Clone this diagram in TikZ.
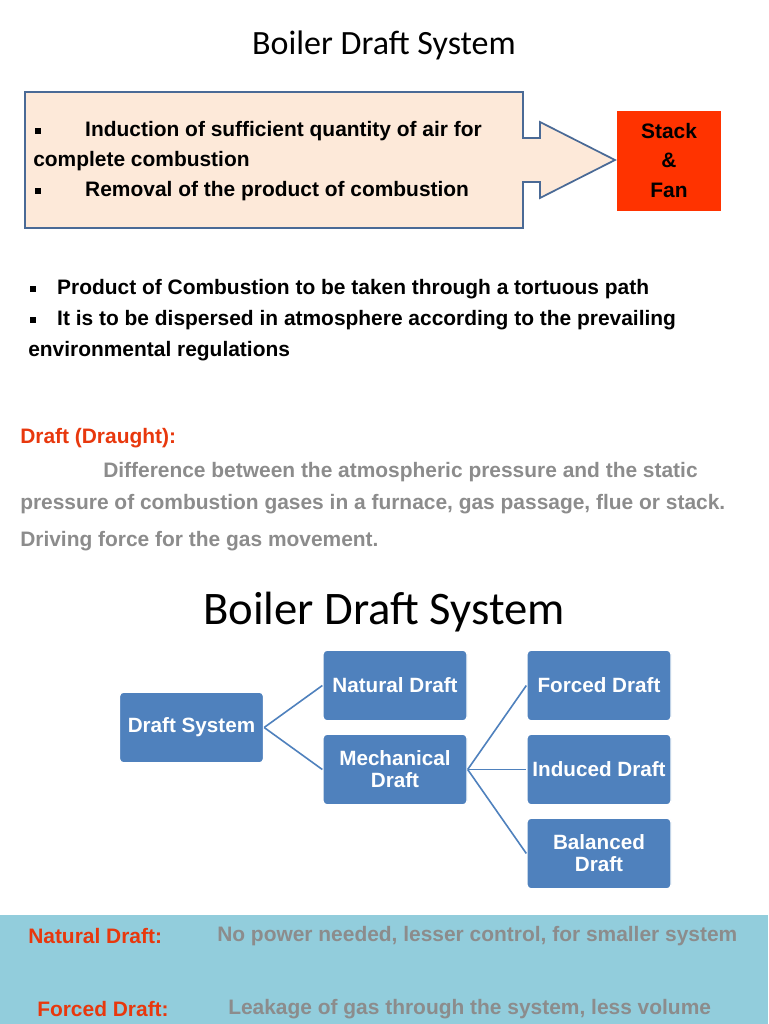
\documentclass[tikz,border=0pt]{standalone}
\usepackage{fontspec}
\setmainfont{Liberation Sans}
\newfontfamily\titlefont{Carlito}
\definecolor{boxblue}{HTML}{4F81BD}
\definecolor{edgeblue}{HTML}{4A6A96}
\definecolor{peach}{HTML}{FDE9D9}
\definecolor{redorange}{HTML}{FF3300}
\definecolor{band}{HTML}{92CDDC}
\definecolor{greytext}{HTML}{8C8C8C}
\definecolor{lbl}{HTML}{E8380D}
\newcommand{\sqb}{\raisebox{0.25ex}{\rule{4.5pt}{4.5pt}}}
\begin{document}
\begin{tikzpicture}[x=0.75pt,y=-0.75pt,
  dbox/.style={fill=boxblue,draw=white,line width=1pt,rounded corners=3pt,text=white,font=\bfseries\fontsize{15.5}{16.5}\selectfont,align=center,inner sep=0pt},
  txt/.style={anchor=west,inner sep=0pt,font=\bfseries\fontsize{15.7}{16}\selectfont},
  conn/.style={draw=boxblue,line width=1.2pt}]
\useasboundingbox (0,0) rectangle (768,1024);
\fill[white] (0,0) rectangle (768,1024);
\node[font=\titlefont\fontsize{25.5}{28}\selectfont] (t1) at (384,45) {Boiler Draft System};
\draw[draw=edgeblue,fill=peach,line width=1.3pt] (25,92) -- (523,92) -- (523,138) -- (540,138) -- (540,122) -- (615,160) -- (540,198) -- (540,182) -- (523,182) -- (523,228) -- (25,228) -- cycle;
\node[txt] (b1) at (35,131) {\sqb\hspace{2.1em}Induction of sufficient quantity of air for};
\node[txt] (b2) at (33,161) {complete combustion};
\node[txt] (b3) at (35,191) {\sqb\hspace{2.1em}Removal of the product of combustion};
\node[fill=redorange,minimum width=78pt,minimum height=75pt,inner sep=0pt,align=center,font=\bfseries\fontsize{15.7}{22}\selectfont] (sf) at (669,160.5) {Stack\\\&\\Fan};
\node[txt] (p1) at (30,289) {\sqb\hspace{1em}Product of Combustion to be taken through a tortuous path};
\node[txt] (p2) at (30,320) {\sqb\hspace{1em}It is to be dispersed in atmosphere according to the prevailing};
\node[txt] (p3) at (28,351) {environmental regulations};
\node[txt,text=lbl] (d0) at (20,438) {Draft (Draught):};
\node[txt,text=greytext] (d1) at (103,472) {Difference between the atmospheric pressure and the static};
\node[txt,text=greytext] (d2) at (20,504) {pressure of combustion gases in a furnace, gas passage, flue or stack.};
\node[txt,text=greytext] (d3) at (20,541) {Driving force for the gas movement.};
\node[font=\titlefont\fontsize{35}{38}\selectfont] (t2) at (384,612) {Boiler Draft System};
\node[dbox,minimum width=108pt,minimum height=53pt] (ds) at (191.5,727.5) {Draft System};
\node[dbox,minimum width=108pt,minimum height=53pt] (nd) at (395,685.5) {Natural Draft};
\node[dbox,minimum width=108pt,minimum height=53pt] (md) at (395,769.5) {Mechanical\\Draft};
\node[dbox,minimum width=108pt,minimum height=53pt] (fd) at (599,685.5) {Forced Draft};
\node[dbox,minimum width=108pt,minimum height=53pt] (id) at (599,769.5) {Induced Draft};
\node[dbox,minimum width=108pt,minimum height=53pt] (bd) at (599,853.5) {Balanced\\Draft};
\draw[conn] (ds.east) -- (nd.west);
\draw[conn] (ds.east) -- (md.west);
\draw[conn] (md.east) -- (fd.west);
\draw[conn] (md.east) -- (id.west);
\draw[conn] (md.east) -- (bd.west);
\fill[band] (0,915) rectangle (768,1024);
\node[txt,text=lbl] (n1) at (28,936) {Natural Draft:};
\node[txt,text=greytext] (n2) at (217,936) {No power needed, lesser control, for smaller system};
\node[txt,text=lbl] (f1) at (37,1009) {Forced Draft:};
\node[txt,text=greytext] (f2) at (228,1009) {Leakage of gas through the system, less volume};
\end{tikzpicture}
\end{document}
